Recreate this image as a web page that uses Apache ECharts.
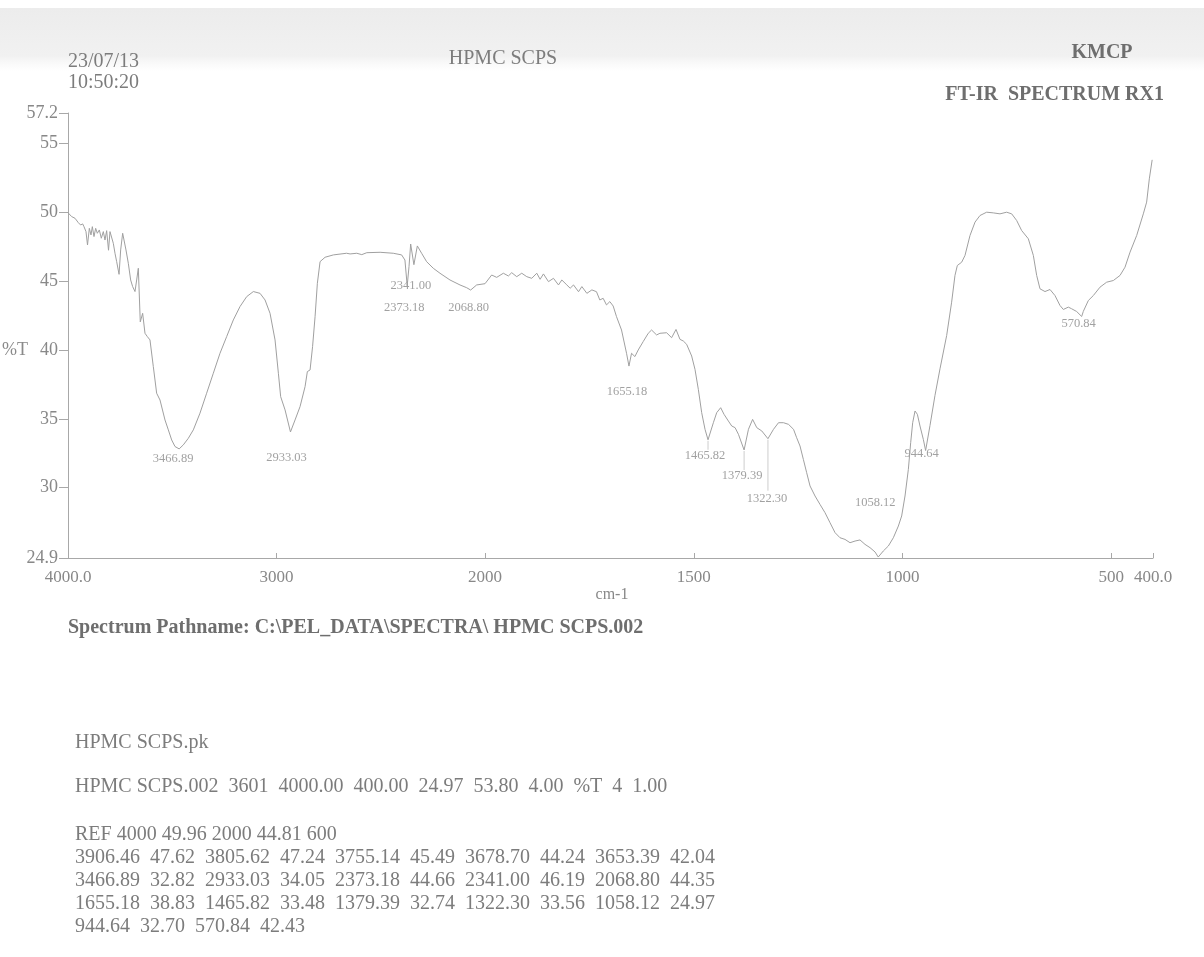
<!DOCTYPE html>
<html>
<head>
<meta charset="utf-8">
<script src="https://cdn.jsdelivr.net/npm/echarts@6/dist/echarts.min.js"></script>
<style>
html,body{margin:0;padding:0;background:#fff;}
#chart{width:1204px;height:957px;}
</style>
</head>
<body>
<div id="chart"></div>
<script>
// ---- data ----
const wavenumber = [4000, 3982.4, 3966.5, 3950.5, 3939.3, 3929.7, 3923.3, 3913.7, 3906.46, 3897.7, 3889.7, 3883.3, 3875.3, 3867.3, 3859.4, 3849.8, 3840.2, 3830.6, 3822.6, 3814.6, 3805.62, 3798.6, 3790.6, 3782.6, 3774.6, 3766.6, 3755.14, 3747.4, 3737.8, 3729.9, 3721.9, 3710.7, 3699.5, 3689.9, 3678.70, 3670.7, 3662.7, 3653.39, 3642, 3630.7, 3619.5, 3606.8, 3590.8, 3574.8, 3558.8, 3534.8, 3518.8, 3502.8, 3486.8, 3466.89, 3446.9, 3422.9, 3398.9, 3367, 3335, 3303, 3271, 3239, 3207, 3175, 3143, 3111, 3079, 3055, 3031, 3007, 2991, 2980, 2959, 2933.03, 2911, 2887, 2863, 2852, 2839, 2827, 2815, 2804, 2791, 2767, 2727, 2664, 2647, 2615, 2591, 2567, 2503, 2440, 2400, 2384, 2373.18, 2364.5, 2356.5, 2341.00, 2324.5, 2304, 2280, 2248, 2216, 2168, 2120, 2088, 2068.80, 2040, 2000,
  1984, 1972, 1956, 1944, 1936, 1924, 1912, 1900, 1888, 1876, 1868, 1860, 1848, 1836, 1824, 1816, 1804, 1796, 1788, 1776, 1768, 1756, 1744, 1733, 1725, 1717, 1709, 1701, 1693, 1685, 1673, 1661, 1655.18, 1649, 1641, 1633, 1621, 1609, 1601, 1589, 1581, 1565, 1553, 1542.5, 1533, 1525, 1517, 1505, 1497, 1489, 1481, 1473, 1465.82, 1453, 1445, 1435.5, 1427.5, 1417, 1409, 1401, 1393, 1379.39, 1369, 1359, 1349, 1337, 1322.30, 1309, 1297, 1285, 1273, 1261, 1253.5, 1245.5, 1237.5, 1229.5, 1221.5, 1209.5, 1197.6, 1185.6, 1173.6, 1161.6, 1149.7, 1137.7, 1125.7, 1113.7, 1101.8, 1089.8, 1077.8, 1065.8, 1058.12, 1045.9, 1033.9, 1021.9, 1009.9, 1002, 994, 986, 980.4, 975.6, 970, 964.4, 958.1, 950.1, 944.64, 934.1, 922.2, 910.2, 894.2, 882.3, 874.3, 868.7, 858.3, 850.3, 838.3, 826.3, 814.4, 798.4, 782.4, 766.5, 750.5, 738.5, 726.6, 714.6, 698.6, 686.6, 678.6, 670.7, 658.7, 646.7, 634.8, 622.8, 614.8, 602.8, 594.8, 582.8, 570.84, 566.9, 554.9, 542.9, 526.9, 511, 495, 479, 467, 455, 439.1, 423.2, 415.2, 408.8, 402];
const transmittance = [49.96, 49.68, 49.56, 49.24, 49.07, 49.15, 48.95, 48.59, 47.62, 48.83, 48.35, 48.95, 48.23, 48.83, 48.47, 48.71, 48.11, 48.59, 47.98, 48.66, 47.24, 48.59, 48.66, 47.74, 47.02, 46.41, 45.49, 47.26, 48.47, 48.35, 47.26, 46.29, 45.08, 44.60, 44.24, 45.08, 45.93, 42.04, 42.66, 41.21, 40.97, 40.73, 38.79, 36.86, 36.37, 34.92, 34.20, 33.47, 32.99, 32.82, 33.11, 33.59, 34.20, 35.41, 36.86, 38.31, 39.76, 40.97, 42.18, 43.15, 43.87, 44.24, 44.11, 43.63, 42.66, 40.73, 38.31, 36.61, 35.65, 34.05, 34.92, 35.89, 37.34, 38.43, 38.55, 40.24, 42.42, 44.84, 46.41, 46.73, 46.90, 47.02, 46.97, 47.02, 46.92, 47.06, 47.09, 47.02, 46.90, 46.53, 44.66, 46.05, 47.69, 46.19, 47.55, 47.02, 46.41, 45.93, 45.57, 45.08, 44.72, 44.52, 44.35, 44.72, 44.81,
  45.44, 45.27, 45.57, 45.37, 45.61, 45.32, 45.57, 45.32, 45.20, 45.57, 45.13, 45.52, 44.96, 45.20, 44.72, 45.08, 44.72, 44.48, 44.72, 44.23, 44.60, 44.11, 44.36, 44.23, 43.63, 43.75, 43.27, 43.51, 43.19, 42.42, 41.45, 39.76, 38.83, 39.76, 39.52, 40.00, 40.61, 41.21, 41.45, 41.09, 41.21, 41.25, 40.89, 41.49, 40.77, 40.65, 40.41, 39.56, 38.59, 37.14, 35.45, 34.24, 33.48, 34.72, 35.45, 35.81, 35.33, 34.84, 34.48, 34.36, 33.88, 32.74, 34.24, 34.96, 34.36, 34.12, 33.56, 34.24, 34.72, 34.72, 34.60, 34.24, 33.63, 33.03, 32.06, 31.09, 30.13, 29.40, 28.79, 28.19, 27.46, 26.74, 26.37, 26.25, 26.01, 26.13, 26.21, 25.89, 25.65, 25.34, 24.97, 25.41, 25.77, 26.37, 27.22, 27.95, 29.40, 31.33, 33.27, 34.72, 35.57, 35.33, 34.48, 33.51, 32.70, 34.52, 36.70, 38.63, 41.05, 43.47, 45.41, 46.13, 46.37, 46.86, 48.31, 49.28, 49.76, 50.00, 49.95, 49.88, 50.00, 49.88, 49.40, 48.67, 48.07, 46.86, 45.41, 44.44, 44.24, 44.39, 43.95, 43.23, 42.94, 43.11, 42.99, 42.79, 42.43, 42.80, 43.59, 43.95, 44.56, 44.92, 45.04, 45.41, 46.01, 47.10, 48.31, 49.88, 50.73, 52.42, 53.80];

const peakWavenumbers = [3466.89, 2933.03, 2373.18, 2341.00, 2068.80, 1655.18, 1465.82, 1379.39, 1322.30, 1058.12, 944.64, 570.84];
const peakValues = [32.82, 34.05, 44.66, 46.19, 44.35, 38.83, 33.48, 32.74, 33.56, 24.97, 32.70, 42.43];
const peakLabels = ['3466.89', '2933.03', '2373.18', '2341.00', '2068.80', '1655.18', '1465.82', '1379.39', '1322.30', '1058.12', '944.64', '570.84'];

const yTicks = [24.9, 30, 35, 40, 45, 50, 55, 57.2];
const yTickLabels = ['24.9', '30', '35', '40', '45', '50', '55', '57.2'];
const xTicksLeft = [4000, 3000, 2000];
const xTickLabelsLeft = ['4000.0', '3000', '2000'];
const xTicksRight = [1500, 1000, 500, 400];
const xTickLabelsRight = ['1500', '1000', '500', '400.0'];

const peakTableLines = [
  'REF 4000 49.96 2000 44.81 600',
  '3906.46  47.62  3805.62  47.24  3755.14  45.49  3678.70  44.24  3653.39  42.04',
  '3466.89  32.82  2933.03  34.05  2373.18  44.66  2341.00  46.19  2068.80  44.35',
  '1655.18  38.83  1465.82  33.48  1379.39  32.74  1322.30  33.56  1058.12  24.97',
  '944.64  32.70  570.84  42.43'
];

// ---- styling (positions / offsets kept separate from data) ----
const peakLabelOffsets = [[-6, 10], [-4, 26], [-3, 22], [-3, 21], [-2, 18], [-2, 26], [-3, 16], [-2, 26], [-1, 60], [-3, -54], [-4, 3], [-3, 7]];
const leaderLengths = { '1465.82': 10, '1379.39': 20, '1322.30': 52 };
const SERIF = '"Liberation Serif", "DejaVu Serif", serif';
const LINE = '#a0a0a0';
const TXT = '#7c7c7c';

const pairs = wavenumber.map((w, i) => [w, transmittance[i]]);
const leftData = pairs.filter(p => p[0] >= 2000);
const rightData = pairs.filter(p => p[0] <= 2000);

function peakItems(cond) {
  const out = [];
  peakWavenumbers.forEach((w, i) => {
    if (cond(w)) out.push({
      value: [w, peakValues[i]],
      name: peakLabels[i],
      label: { offset: peakLabelOffsets[i] }
    });
  });
  return out;
}
const leaderData = [];
peakWavenumbers.forEach((w, i) => {
  if (leaderLengths[peakLabels[i]] !== undefined) leaderData.push({ value: [w, peakValues[i]], name: peakLabels[i] });
});

function labelFmt(vals, labels) {
  return function (v) {
    for (let i = 0; i < vals.length; i++) if (Math.abs(vals[i] - v) < 1e-6) return labels[i];
    return '';
  };
}

const axisLineStyle = { color: '#a8a8a8', width: 1 };
const xLabelStyle = { color: '#888', fontSize: 17, fontFamily: SERIF, margin: 11 };

const chart = echarts.init(document.getElementById('chart'), null, { renderer: 'canvas' });
chart.setOption({
  animation: false,
  backgroundColor: '#ffffff',
  textStyle: { fontFamily: SERIF },
  grid: [
    { left: 68, top: 113, width: 417, height: 445, containLabel: false, outerBoundsMode: 'none' },
    { left: 485, top: 113, width: 668, height: 445, containLabel: false, outerBoundsMode: 'none' }
  ],
  xAxis: [
    {
      gridIndex: 0, type: 'value', min: 2000, max: 4000, inverse: true,
      axisLine: { show: true, lineStyle: axisLineStyle },
      axisTick: { show: true, inside: true, length: 5, lineStyle: axisLineStyle, customValues: xTicksLeft },
      axisLabel: Object.assign({ customValues: xTicksLeft, formatter: labelFmt(xTicksLeft, xTickLabelsLeft) }, xLabelStyle),
      splitLine: { show: false }
    },
    {
      gridIndex: 1, type: 'value', min: 400, max: 2000, inverse: true,
      axisLine: { show: true, lineStyle: axisLineStyle },
      axisTick: { show: true, inside: true, length: 5, lineStyle: axisLineStyle, customValues: xTicksRight },
      axisLabel: Object.assign({ customValues: xTicksRight, formatter: labelFmt(xTicksRight, xTickLabelsRight) }, xLabelStyle),
      splitLine: { show: false }
    }
  ],
  yAxis: [
    {
      gridIndex: 0, type: 'value', min: 24.9, max: 57.2,
      axisLine: { show: true, lineStyle: axisLineStyle },
      axisTick: { show: true, inside: false, length: 9, lineStyle: axisLineStyle, customValues: yTicks },
      axisLabel: { customValues: yTicks, formatter: labelFmt(yTicks, yTickLabels), color: '#888', fontSize: 18, fontFamily: SERIF, margin: 10 },
      splitLine: { show: false }
    },
    {
      gridIndex: 1, type: 'value', min: 24.9, max: 57.2, show: false,
      splitLine: { show: false }
    }
  ],
  series: [
    { type: 'line', xAxisIndex: 0, yAxisIndex: 0, data: leftData, symbol: 'none', lineStyle: { color: LINE, width: 1 }, silent: true },
    { type: 'line', xAxisIndex: 1, yAxisIndex: 1, data: rightData, symbol: 'none', lineStyle: { color: LINE, width: 1 }, silent: true },
    {
      type: 'custom', xAxisIndex: 1, yAxisIndex: 1, silent: true, data: leaderData,
      renderItem: function (params, api) {
        const p = api.coord([api.value(0), api.value(1)]);
        const len = leaderLengths[leaderData[params.dataIndex].name];
        return { type: 'line', shape: { x1: p[0], y1: p[1] + 1, x2: p[0], y2: p[1] + len }, style: { stroke: '#cdcdcd', lineWidth: 1 } };
      }
    },
    {
      type: 'scatter', xAxisIndex: 0, yAxisIndex: 0, symbolSize: 1, itemStyle: { color: 'rgba(0,0,0,0)' },
      data: peakItems(w => w > 2000),
      label: { show: true, position: 'inside', align: 'center', verticalAlign: 'middle', formatter: p => p.name, color: '#8a8a8a', fontSize: 12.5, fontFamily: SERIF }
    },
    {
      type: 'scatter', xAxisIndex: 1, yAxisIndex: 1, symbolSize: 1, itemStyle: { color: 'rgba(0,0,0,0)' },
      data: peakItems(w => w <= 2000),
      label: { show: true, position: 'inside', align: 'center', verticalAlign: 'middle', formatter: p => p.name, color: '#8a8a8a', fontSize: 12.5, fontFamily: SERIF }
    }
  ],
  graphic: [
    { type: 'rect', z: -10, shape: { x: 0, y: 8, width: 1204, height: 64 },
      style: { fill: new echarts.graphic.LinearGradient(0, 0, 0, 1, [
        { offset: 0, color: '#ececec' }, { offset: 0.75, color: '#f1f1f1' }, { offset: 1, color: 'rgba(248,248,248,0)' }]) } },
    { type: 'text', style: { text: '23/07/13', x: 68, y: 62, fill: TXT, font: '20px ' + SERIF, align: 'left', verticalAlign: 'middle' } },
    { type: 'text', style: { text: '10:50:20', x: 68, y: 83, fill: TXT, font: '20px ' + SERIF, align: 'left', verticalAlign: 'middle' } },
    { type: 'text', style: { text: 'HPMC SCPS', x: 503, y: 59, fill: TXT, font: '20px ' + SERIF, align: 'center', verticalAlign: 'middle' } },
    { type: 'text', style: { text: 'KMCP', x: 1102, y: 53, fill: '#6e6e6e', font: 'bold 20px ' + SERIF, align: 'center', verticalAlign: 'middle' } },
    { type: 'text', style: { text: 'FT-IR  SPECTRUM RX1', x: 1164, y: 95, fill: '#6e6e6e', font: 'bold 20px ' + SERIF, align: 'right', verticalAlign: 'middle' } },
    { type: 'text', style: { text: '%T', x: 28, y: 350, fill: '#8a8a8a', font: '18px ' + SERIF, align: 'right', verticalAlign: 'middle' } },
    { type: 'text', style: { text: 'cm-1', x: 612, y: 595, fill: '#888', font: '16px ' + SERIF, align: 'center', verticalAlign: 'middle' } },
    { type: 'text', style: { text: 'Spectrum Pathname: C:\\PEL_DATA\\SPECTRA\\ HPMC SCPS.002', x: 68, y: 628, fill: '#6e6e6e', font: 'bold 20px ' + SERIF, align: 'left', verticalAlign: 'middle' } },
    { type: 'text', style: { text: 'HPMC SCPS.pk', x: 75, y: 743, fill: TXT, font: '20px ' + SERIF, align: 'left', verticalAlign: 'middle' } },
    { type: 'text', style: { text: 'HPMC SCPS.002  3601  4000.00  400.00  24.97  53.80  4.00  %T  4  1.00', x: 75, y: 787, fill: TXT, font: '20px ' + SERIF, align: 'left', verticalAlign: 'middle' } }
  ].concat(peakTableLines.map((t, i) => ({
    type: 'text', style: { text: t, x: 75, y: 835 + i * 23, fill: TXT, font: '20px ' + SERIF, align: 'left', verticalAlign: 'middle' }
  })))
});
</script>
</body>
</html>
